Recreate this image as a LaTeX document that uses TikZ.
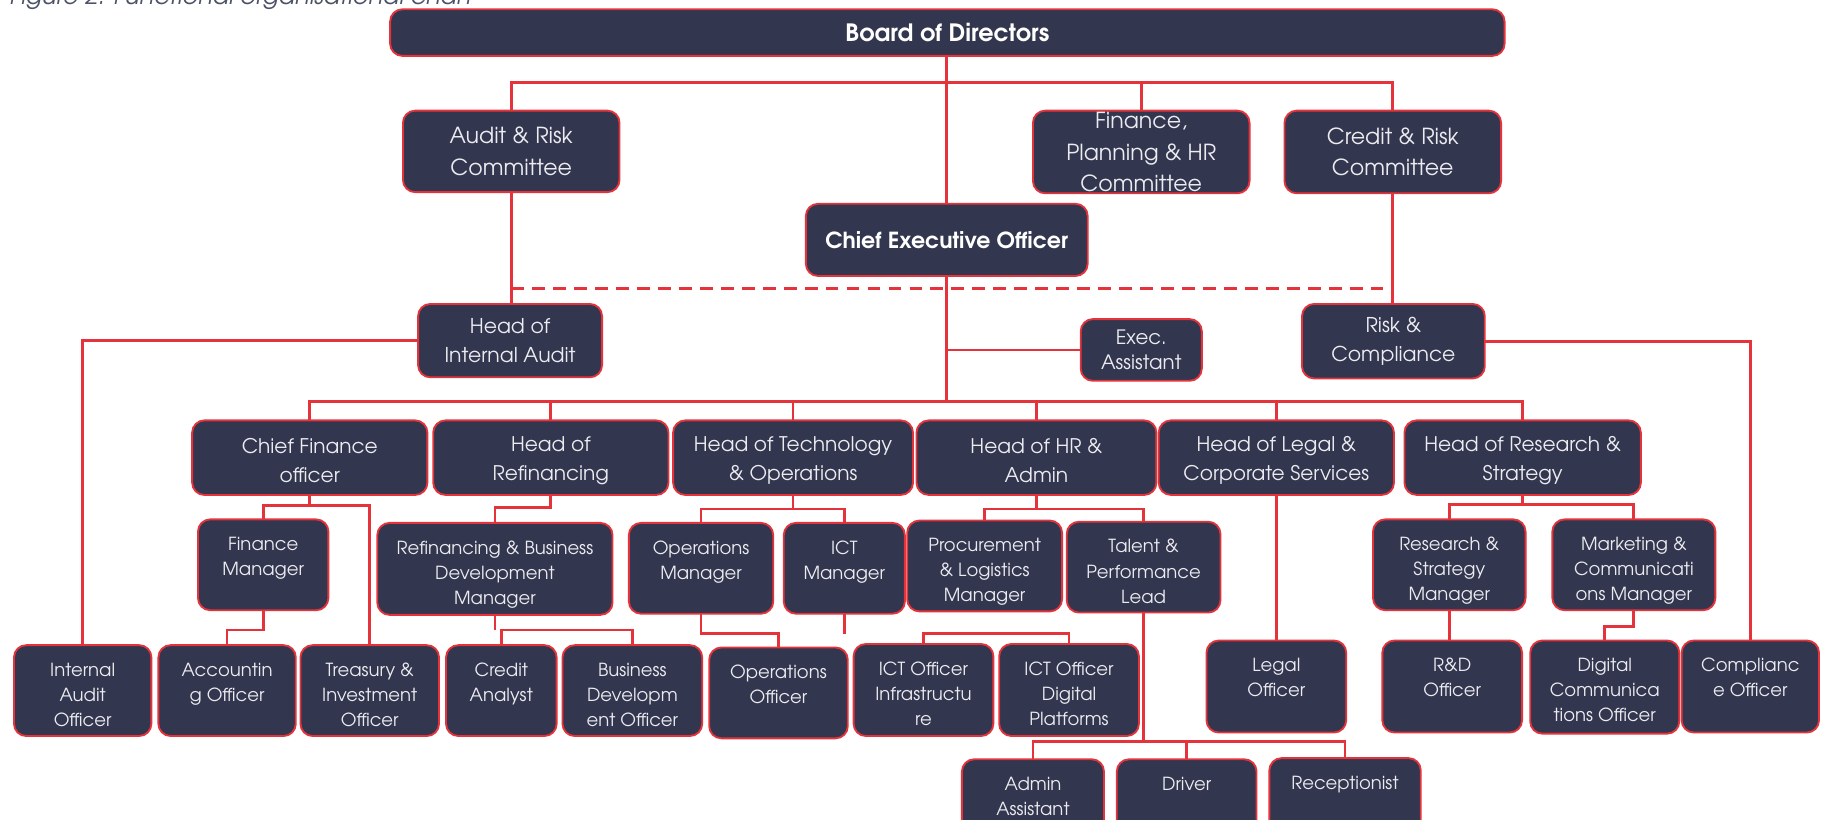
\documentclass[tikz,border=0pt]{standalone}
\usepackage{fontspec}
\setmainfont{texgyreadventor}[Extension=.otf, UprightFont=*-regular, BoldFont=*-bold, ItalicFont=*-italic, BoldItalicFont=*-bolditalic]
\definecolor{navy}{HTML}{32364F}
\definecolor{orgred}{HTML}{E5333B}
\definecolor{capgrey}{HTML}{4B5166}
\definecolor{txtgrey}{HTML}{ECECF0}
\tikzset{
  box/.style={draw=orgred, line width=1.6pt, fill=navy, rounded corners=10.5pt, inner sep=0pt, outer sep=0pt},
  txt/.style={text=txtgrey, align=center, inner sep=0pt},
  ln/.style={draw=orgred, line width=2.4pt},
  dsh/.style={draw=orgred, line width=2.4pt, dash pattern=on 11pt off 7pt},
  tb/.style={txt, text=white, font=\bfseries\fontsize{19}{24}\selectfont},
  tbd/.style={txt, text=white, font=\bfseries\fontsize{20.5}{24}\selectfont},
  t2/.style={txt, font=\fontsize{19}{27}\selectfont},
  t3/.style={txt, font=\fontsize{17.5}{25}\selectfont},
  tea/.style={txt, font=\fontsize{17}{22}\selectfont},
  t4/.style={txt, font=\fontsize{17.3}{24.5}\selectfont, yshift=-2.5pt},
  t5/.style={txt, font=\fontsize{15.5}{21.5}\selectfont, anchor=north, yshift=-15pt},
  t6/.style={txt, font=\fontsize{15.5}{21.5}\selectfont, anchor=north, yshift=-15pt},
}
\newcommand\ob[8]{%
  \node[box, minimum width={(#4-#2)*1pt}, minimum height={(#5-#3)*1pt}] (#1) at ({(#2+#4)/2},{(#3+#5)/2}) {};
  \node[#7] (#1-t) at (#1.#6) {#8};
}
\begin{document}
\begin{tikzpicture}[x=1pt,y=-1pt]
\fill[white] (0,0) rectangle (1568,704);
\useasboundingbox (0,0) rectangle (1568,704);
\node[anchor=base west, font=\itshape\fontsize{20.5}{22}\selectfont, text=capgrey, inner sep=0pt] (title) at (8,3.5) {Figure 2: Functional organisational chart};
% bus levels
\coordinate (y71) at (0,71);
\coordinate (y248) at (0,248);
\coordinate (y345) at (0,345);
\coordinate (y433) at (0,433);
\coordinate (y434) at (0,434);
\coordinate (y436) at (0,436);
\coordinate (y437) at (0,437);
\coordinate (y538) at (0,538);
\coordinate (y541) at (0,541);
\coordinate (y544) at (0,544);
\coordinate (y637) at (0,637);
% level 1-3
\ob{bod}{335}{8}{1292}{48}{center}{tbd}{Board of Directors}
\ob{arc}{346}{95}{532}{165}{center}{t2}{Audit \& Risk\\Committee}
\ob{fph}{887}{95}{1073}{166}{center}{t2}{Finance,\\Planning \& HR\\Committee}
\ob{crc}{1103}{95}{1289}{166}{center}{t2}{Credit \& Risk\\Committee}
\ob{ceo}{692}{175}{934}{237}{center}{tb}{Chief Executive Officer}
\ob{hia}{359}{261}{517}{324}{center}{t3}{Head of\\Internal Audit}
\ob{ea}{928}{274}{1032}{327}{center}{tea}{Exec.\\Assistant}
\ob{rc}{1118}{261}{1275}{325}{center}{t3}{Risk \&\\Compliance}
% level 4
\ob{cfo}{165}{361}{367}{425}{center}{t4}{Chief Finance\\officer}
\ob{hrf}{372}{361}{574}{425}{center}{t4}{Head of\\Refinancing}
\ob{hto}{578}{361}{784}{425}{center}{t4}{Head of Technology\\\& Operations}
\ob{hhr}{787}{361}{993}{425}{center}{t4}{Head of HR \&\\Admin}
\ob{hlc}{995}{361}{1197}{425}{center}{t4}{Head of Legal \&\\Corporate Services}
\ob{hrs}{1206}{361}{1409}{425}{center}{t4}{Head of Research \&\\Strategy}
% level 5
\ob{fm}{170}{446}{282}{524}{north}{t5}{Finance\\Manager}
\ob{rbm}{324}{449}{526}{528}{north}{t5}{Refinancing \& Business\\Development\\Manager}
\ob{om}{540}{449}{664}{527}{north}{t5}{Operations\\Manager}
\ob{ictm}{673}{449}{777}{527}{north}{t5}{ICT\\Manager}
\ob{plm}{779}{447}{912}{525}{north}{t5}{Procurement\\\& Logistics\\Manager}
\ob{tpl}{916}{448}{1048}{526}{north}{t5}{Talent \&\\Performance\\Lead}
\ob{rsm}{1179}{446}{1310}{524}{north}{t5}{Research \&\\Strategy\\Manager}
\ob{mcm}{1333}{446}{1473}{524}{north}{t5}{Marketing \&\\Communicati\\ons Manager}
% level 6
\ob{iao}{12}{554}{130}{632}{north}{t6}{Internal\\Audit\\Officer}
\ob{acc}{136}{554}{254}{632}{north}{t6}{Accountin\\g Officer}
\ob{tio}{258}{554}{377}{632}{north}{t6}{Treasury \&\\Investment\\Officer}
\ob{ca}{383}{554}{478}{632}{north}{t6}{Credit\\Analyst}
\ob{bdo}{483}{554}{603}{632}{north}{t6}{Business\\Developm\\ent Officer}
\ob{oo}{609}{556}{728}{634}{north}{t6}{Operations\\Officer}
\ob{ictinf}{733}{553}{853}{632}{north}{t6}{ICT Officer\\Infrastructu\\re}
\ob{ictdp}{858}{553}{978}{632}{north}{t6}{ICT Officer\\Digital\\Platforms}
\ob{lo}{1036}{550}{1156}{629}{north}{t6}{Legal\\Officer}
\ob{rdo}{1187}{550}{1307}{629}{north}{t6}{R\&D\\Officer}
\ob{dco}{1314}{550}{1442}{630}{north}{t6}{Digital\\Communica\\tions Officer}
\ob{co}{1444}{550}{1562}{629}{north}{t6}{Complianc\\e Officer}
% level 7
\ob{aa}{826}{652}{948}{730}{north}{t6}{Admin\\Assistant}
\ob{drv}{959}{652}{1079}{730}{north}{t6}{Driver}
\ob{rcp}{1090}{651}{1220}{730}{north}{t6}{Receptionist}
% connectors top
\draw[ln] (arc.north) |- (crc.north |- y71) -- (crc.north);
\draw[ln] (fph.north) -- (fph.north |- y71);
\draw[ln] (bod.south -| ceo.north) -- (ceo.north);
\draw[dsh] (arc.south |- y248) -- (crc.south |- y248);
\draw[ln] (arc.south) -- (arc.south |- hia.north);
\draw[ln] (crc.south) -- (crc.south |- rc.north);
\draw[ln] (ceo.south) -- (ceo.south |- y345);
\draw[ln] (ceo.south |- ea.west) -- (ea.west);
\draw[ln] (hia.west) -| (iao.north);
\draw[ln] (rc.east) -| (co.north);
% heads bus
\draw[ln] (cfo.north) |- (hrs.north |- y345) -- (hrs.north);
\foreach \h in {hrf,hto,hhr,hlc} \draw[ln] (\h.north) -- (\h.north |- y345);
% level 5 connectors
\draw[ln] (cfo.south) -- (cfo.south |- y434) -| (fm.north);
\draw[ln] (cfo.south |- y434) -| (tio.north);
\draw[ln] (hrf.south) -- (hrf.south |- y436) -| (rbm.north);
\draw[ln] (hto.south) -- (hto.south |- y437);
\draw[ln] (om.north) |- (ictm.north |- y437) -- (ictm.north);
\draw[ln] (hhr.south) -- (hhr.south |- y437);
\draw[ln] (plm.north) |- (tpl.north |- y437) -- (tpl.north);
\draw[ln] (hlc.south) -- (hlc.south |- lo.north);
\draw[ln] (hrs.south) -- (hrs.south |- y433);
\draw[ln] (rsm.north) |- (mcm.north |- y433) -- (mcm.north);
% level 6 connectors
\draw[ln] (fm.south) -- (fm.south |- y541) -| (acc.north);
\draw[ln] (rbm.south) -- (rbm.south |- y541);
\draw[ln] (ca.north) |- (bdo.north |- y541) -- (bdo.north);
\draw[ln] (om.south) -- (om.south |- y544) -| (oo.north);
\draw[ln] (ictm.south) -- (ictm.south |- y544);
\draw[ln] (ictinf.north) |- (ictdp.north |- y544) -- (ictdp.north);
\draw[ln] (rsm.south) -- (rsm.south |- rdo.north);
\draw[ln] (mcm.south) -- (mcm.south |- y538) -| (dco.north);
% level 7 connectors
\draw[ln] (tpl.south) -- (tpl.south |- y637);
\draw[ln] (aa.north) |- (rcp.north |- y637) -- (rcp.north);
\draw[ln] (drv.north) -- (drv.north |- y637);
\end{tikzpicture}
\end{document}
